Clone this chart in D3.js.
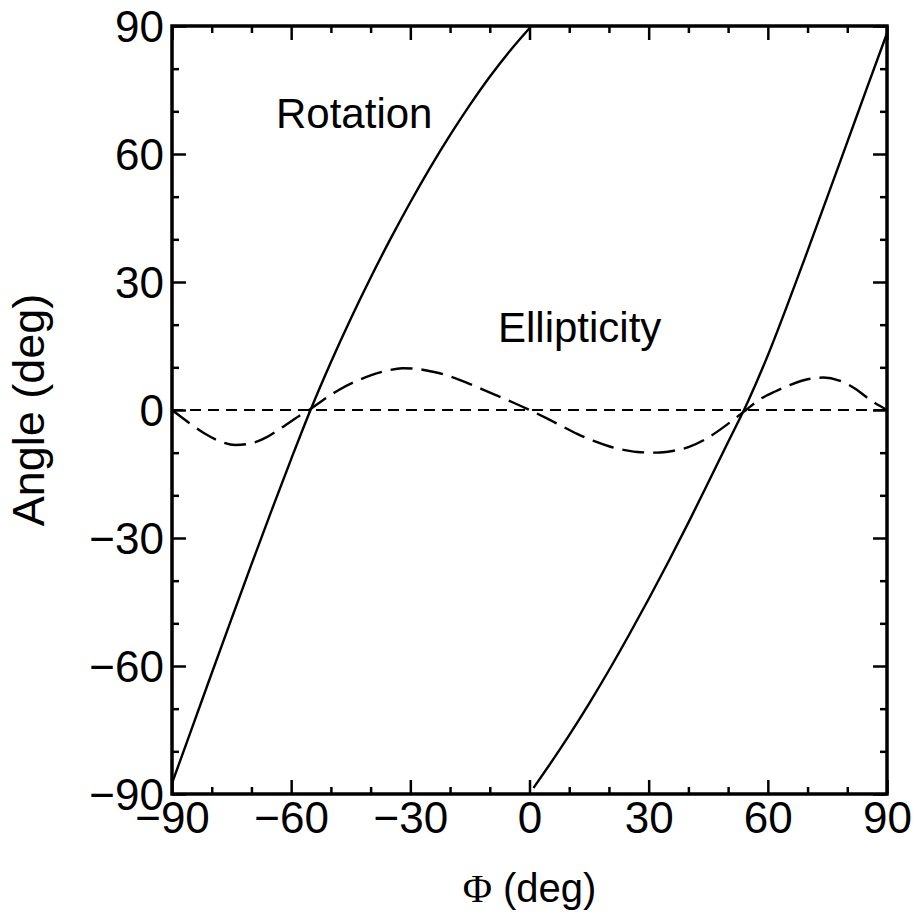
<!DOCTYPE html>
<html lang="en">
<head>
    <meta charset="UTF-8">
    <title>Rotation and Ellipticity vs Phi</title>
    <script src="https://d3js.org/d3.v7.min.js"></script>
    <style>
        body {
            margin: 0;
            background-color: #fff;
        }
        svg {
            display: block;
        }
        .tick text {
            font-family: "Liberation Sans", Arial, Helvetica, sans-serif;
            font-size: 44px;
            fill: #000;
        }
        .tick line {
            stroke: #000;
            stroke-width: 2.5px;
        }
        .label {
            font-family: "Liberation Sans", Arial, Helvetica, sans-serif;
            fill: #000;
        }
    </style>
</head>
<body>
    <svg width="915" height="920"></svg>

    <script>
        // Rotation, first branch (Phi from -90 to 0)
        const phiRot1 = [-90, -85, -80, -75, -70, -65, -60, -55, -50, -45, -40, -35, -30, -25, -20, -15, -10, -5, 0];
        const rot1 = [-87.5, -74.6, -61.7, -48.9, -36.2, -23.7, -11.5, 0.3, 11.2, 21.4, 31.0, 40.1, 48.7, 56.8, 64.4, 71.5, 78.1, 84.1, 89.5];

        // Rotation, second branch (Phi from 0 to 90)
        const phiRot2 = [1, 5, 10, 15, 20, 25, 30, 35, 40, 45, 50, 55, 60, 65, 70, 75, 80, 85, 90];
        const rot2 = [-88.6, -83.2, -76.2, -68.8, -61.0, -52.8, -44.3, -35.5, -26.4, -17.0, -7.5, 2.0, 12.8, 24.8, 37.3, 50.0, 62.8, 75.6, 88.3];

        // Ellipticity
        const phiEll = [-90, -86, -82, -78, -74, -70, -66, -62, -58, -55.5, -52, -48, -44, -40, -36, -32, -28, -24, -20, -16, -12, -8, -4, 0,
                        4, 8, 12, 16, 20, 24, 28, 32, 36, 40, 44, 48, 52, 54.5, 58, 62, 66, 70, 74, 78, 82, 86, 90];
        const ell = [0, -2.8, -5.4, -7.3, -8.2, -7.8, -6.3, -3.9, -1.4, 0, 2.3, 4.7, 6.6, 8.1, 9.2, 9.8, 9.6, 8.9, 7.9, 6.5, 4.9, 3.3, 1.7, 0,
                     -1.8, -3.7, -5.6, -7.2, -8.5, -9.4, -9.9, -10, -9.6, -8.7, -7.0, -4.6, -1.8, 0, 2.5, 4.4, 6.0, 7.2, 7.6, 6.9, 5.0, 2.2, 0];

        // zero reference line
        const phiZero = [-90, 90];
        const zeroLine = [0, 0];

        const majorTicks = [-90, -60, -30, 0, 30, 60, 90];
        const minorTicks = d3.range(-80, 90, 10).filter(v => v % 30 !== 0);

        const svg = d3.select("svg");
        const plotLeft = 172, plotRight = 887, plotTop = 26, plotBottom = 794;

        const x = d3.scaleLinear().domain([-90, 90]).range([plotLeft, plotRight]);
        const y = d3.scaleLinear().domain([-90, 90]).range([plotBottom, plotTop]);

        // 축 (ticks inward on all four sides)
        function addAxis(axisFn, transform, values, size, labels) {
            const g = svg.append("g")
                .attr("transform", transform)
                .call(axisFn
                    .tickValues(values)
                    .tickSize(-size)
                    .tickPadding(labels ? 8 : 0)
                    .tickFormat(labels ? d3.format("d") : ""));
            g.select(".domain").remove();
            return g;
        }

        const xb = addAxis(d3.axisBottom(x), `translate(0,${plotBottom})`, majorTicks, 14, true);
        xb.selectAll("text").attr("dy", "0.72em").attr("y", 7);
        addAxis(d3.axisBottom(x), `translate(0,${plotBottom})`, minorTicks, 7, false);
        addAxis(d3.axisTop(x), `translate(0,${plotTop})`, majorTicks, 14, false);
        addAxis(d3.axisTop(x), `translate(0,${plotTop})`, minorTicks, 7, false);

        const yl = addAxis(d3.axisLeft(y), `translate(${plotLeft},0)`, majorTicks, 14, true);
        yl.selectAll("text").attr("dy", "0.36em");
        addAxis(d3.axisLeft(y), `translate(${plotLeft},0)`, minorTicks, 7, false);
        addAxis(d3.axisRight(y), `translate(${plotRight},0)`, majorTicks, 14, false);
        addAxis(d3.axisRight(y), `translate(${plotRight},0)`, minorTicks, 7, false);

        const line = d3.line()
            .x(d => x(d[0]))
            .y(d => y(d[1]))
            .curve(d3.curveMonotoneX);

        // 곡선
        svg.append("path")
            .datum(d3.zip(phiZero, zeroLine))
            .attr("d", line)
            .attr("fill", "none")
            .attr("stroke", "#000")
            .attr("stroke-width", 2.2)
            .attr("stroke-dasharray", "11,7");

        svg.append("path")
            .datum(d3.zip(phiEll, ell))
            .attr("d", line)
            .attr("fill", "none")
            .attr("stroke", "#000")
            .attr("stroke-width", 2.4)
            .attr("stroke-dasharray", "22,9");

        [d3.zip(phiRot1, rot1), d3.zip(phiRot2, rot2)].forEach(data => {
            svg.append("path")
                .datum(data)
                .attr("d", line)
                .attr("fill", "none")
                .attr("stroke", "#000")
                .attr("stroke-width", 2.4);
        });

        // 프레임
        svg.append("rect")
            .attr("x", plotLeft)
            .attr("y", plotTop)
            .attr("width", plotRight - plotLeft)
            .attr("height", plotBottom - plotTop)
            .attr("fill", "none")
            .attr("stroke", "#000")
            .attr("stroke-width", 3.5);

        // curve labels
        svg.append("text")
            .attr("class", "label")
            .attr("x", 276)
            .attr("y", 128)
            .attr("font-size", "42px")
            .text("Rotation");

        svg.append("text")
            .attr("class", "label")
            .attr("x", 498)
            .attr("y", 342)
            .attr("font-size", "42px")
            .text("Ellipticity");

        // axis titles
        svg.append("text")
            .attr("class", "label")
            .attr("transform", `translate(44,${(plotTop + plotBottom) / 2}) rotate(-90)`)
            .attr("text-anchor", "middle")
            .attr("font-size", "45px")
            .text("Angle (deg)");

        const xt = svg.append("text")
            .attr("class", "label")
            .attr("x", (plotLeft + plotRight) / 2)
            .attr("y", 902)
            .attr("text-anchor", "middle")
            .attr("font-size", "40px");
        xt.append("tspan")
            .attr("font-family", "'Liberation Serif', 'Times New Roman', serif")
            .text("Φ");
        xt.append("tspan")
            .text("\u00a0(deg)");
    </script>
</body>
</html>
